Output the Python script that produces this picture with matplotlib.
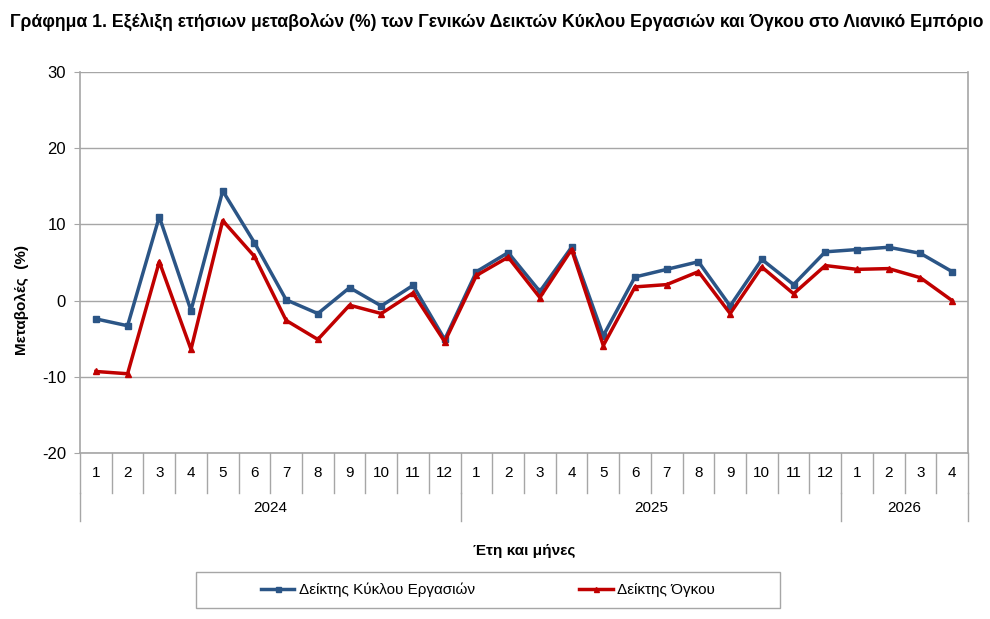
import matplotlib.pyplot as plt
import matplotlib.transforms as mtransforms
from matplotlib.patches import Rectangle
import numpy as np

plt.rcParams['font.family'] = ['Liberation Sans Narrow', 'Liberation Sans', 'DejaVu Sans']
plt.rcParams['axes.unicode_minus'] = False

years = ['2024', '2025', '2026']
months_per_year = [12, 12, 4]
month_labels = [str(m) for n in months_per_year for m in range(1, n + 1)]

turnover = [-2.4, -3.3, 11.0, -1.3, 14.4, 7.6, 0.1, -1.7, 1.7, -0.7, 2.0, -5.1,
            3.8, 6.3, 1.2, 7.0, -4.6, 3.1, 4.1, 5.1, -0.7, 5.4, 2.1, 6.4,
            6.7, 7.0, 6.2, 3.8]
volume = [-9.3, -9.6, 5.1, -6.4, 10.5, 5.8, -2.6, -5.1, -0.6, -1.7, 1.0, -5.4,
          3.3, 5.7, 0.4, 6.7, -5.9, 1.8, 2.1, 3.8, -1.7, 4.4, 0.9, 4.6,
          4.1, 4.2, 3.0, 0.0]

blue = '#2B5586'
red = '#C00000'
grid_col = '#A6A6A6'

fig = plt.figure(figsize=(9.9, 6.19), dpi=100)
ax = fig.add_axes([80 / 990, 1 - 453 / 619, 888 / 990, 381 / 619])

x = np.arange(len(month_labels))
ax.plot(x, turnover, color=blue, lw=2.5, marker='s', ms=4.5, label='Δείκτης Κύκλου Εργασιών')
ax.plot(x, volume, color=red, lw=2.5, marker='^', ms=4.5, label='Δείκτης Όγκου')

ax.set_xlim(-0.5, len(x) - 0.5)
ax.set_ylim(-20, 30)
ax.set_yticks(np.arange(-20, 31, 10))
ax.tick_params(axis='y', labelsize=12, length=4, color=grid_col, pad=6)
ax.set_xticks([])
ax.yaxis.grid(True, color=grid_col, lw=1)
ax.set_axisbelow(True)
for side in ['left', 'right', 'bottom']:
    ax.spines[side].set_color(grid_col)
    ax.spines[side].set_linewidth(1.2)
ax.spines['top'].set_visible(False)

# category axis: months and years
trans = mtransforms.blended_transform_factory(ax.transData, ax.transAxes)
h = 381
for i, lab in enumerate(month_labels):
    ax.text(i, -20 / h, lab, transform=trans, ha='center', va='center', fontsize=11)
for b in range(len(x) + 1):
    ax.plot([b - 0.5, b - 0.5], [0, -40 / h], transform=trans, color=grid_col, lw=1, clip_on=False)
start = 0
for yr, n in zip(years, months_per_year):
    ax.text(start + n / 2 - 0.5, -55 / h, yr, transform=trans, ha='center', va='center', fontsize=11)
    ax.plot([start - 0.5, start - 0.5], [-40 / h, -68 / h], transform=trans, color=grid_col, lw=1, clip_on=False)
    start += n
ax.plot([start - 0.5, start - 0.5], [-40 / h, -68 / h], transform=trans, color=grid_col, lw=1, clip_on=False)

fig.text(0.5 * (80 + 968) / 990, 1 - 551 / 619, 'Έτη και μήνες', ha='center', va='center',
         fontsize=11, fontweight='bold')
fig.text(22 / 990, 1 - 300 / 619, 'Μεταβολές  (%)', rotation=90, ha='center', va='center',
         fontsize=11, fontweight='bold')
fig.text(10 / 990, 1 - 22 / 619,
         'Γράφημα 1. Εξέλιξη ετήσιων μεταβολών (%) των Γενικών Δεικτών Κύκλου Εργασιών και Όγκου στο Λιανικό Εμπόριο',
         ha='left', va='center', fontsize=12.7, fontweight='bold')

# legend with a wider hand-drawn frame, as in the original
fig.patches.append(Rectangle((196 / 990, 1 - 608 / 619), 584 / 990, 36 / 619, transform=fig.transFigure,
                             facecolor='white', edgecolor=grid_col, lw=1, zorder=0))
fig.legend(loc='center', bbox_to_anchor=(488 / 990, 1 - 590 / 619), ncol=2, frameon=False,
           fontsize=11, handlelength=2.2, handletextpad=0.3, columnspacing=6.8,
           borderpad=0.5, borderaxespad=0, markerscale=0.8)

fig.savefig('out.png', dpi=100)
